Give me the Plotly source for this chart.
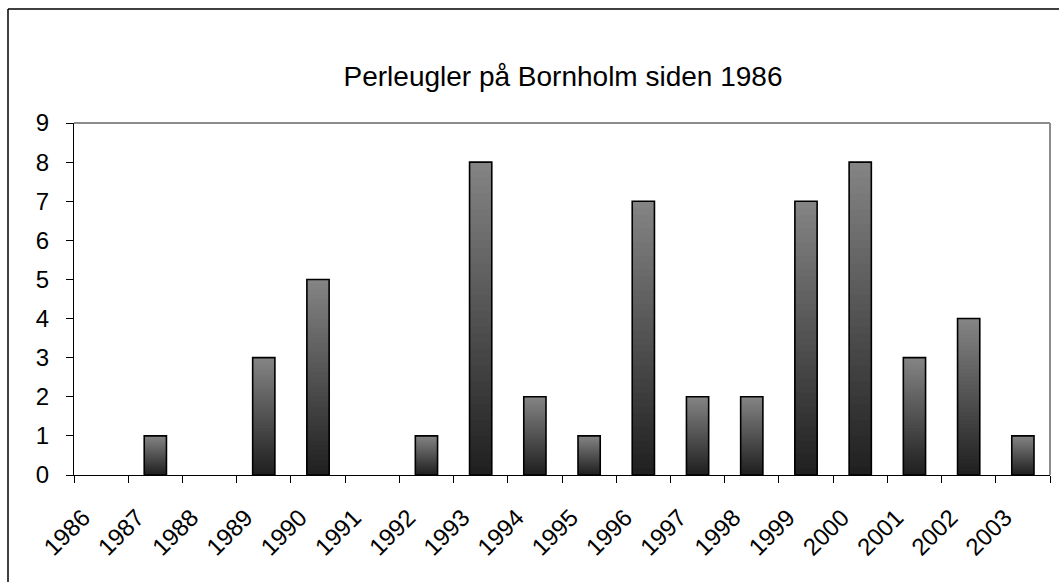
import plotly.graph_objects as go

years = [str(y) for y in range(1986, 2004)]
counts = [0, 1, 0, 3, 5, 0, 1, 8, 2, 1, 7, 2, 2, 7, 8, 3, 4, 1]
title_text = "Perleugler på Bornholm siden 1986"

fig = go.Figure()

# vertical gradient per bar: light gray at top, dark at bottom (stepped overlay)
N = 40
top_rgb = (132, 132, 132)
bot_rgb = (30, 30, 30)
for i in range(N):
    f = 1 - i / N
    c = tuple(int(bot_rgb[k] + (top_rgb[k] - bot_rgb[k]) * f) for k in range(3))
    fig.add_trace(go.Bar(
        x=years, y=[v * f if v else None for v in counts], width=0.41,
        marker=dict(color=f"rgb{c}", line=dict(width=0)),
        hoverinfo="skip", showlegend=False,
    ))
fig.add_trace(go.Bar(
    x=years, y=[v if v else None for v in counts], width=0.41,
    marker=dict(color="rgba(0,0,0,0)", line=dict(color="black", width=1.6)),
    showlegend=False,
))

L, R, T, B = 74, 9, 123, 107
W, H = 1059, 582
pw, ph = W - L - R, H - T - B
def px(x):
    return (x - L) / pw
def py(y):
    return (H - B - y) / ph

fig.update_layout(
    width=W, height=H,
    margin=dict(l=L, r=R, t=T, b=B, autoexpand=False),
    barmode="overlay",
    paper_bgcolor="white", plot_bgcolor="white",
    font=dict(family="Liberation Sans, Arial, sans-serif", color="black", size=24),
    title=dict(text=title_text, xref="container", x=563 / W, xanchor="center",
               y=1 - 76 / H, yanchor="middle", font=dict(size=28)),
    xaxis=dict(type="category", tickson="boundaries", ticks="outside", ticklen=7,
               tickcolor="black", tickwidth=1, showline=True, linecolor="black", linewidth=1,
               tickangle=-45, showgrid=False, zeroline=False, tickfont=dict(size=24),
               ticklabelshift=-18, ticklabelstandoff=18, automargin=False),
    yaxis=dict(range=[0, 9], dtick=1, ticks="outside", ticklen=7, tickcolor="black",
               showline=True, linecolor="black", linewidth=1, showgrid=False,
               zeroline=False, tickfont=dict(size=24), ticklabelstandoff=12,
               automargin=False),
    shapes=[
        dict(type="line", xref="paper", yref="paper", x0=0, x1=1, y0=1, y1=1,
             line=dict(color="#8c8c8c", width=2)),
        dict(type="line", xref="paper", yref="paper", x0=1, x1=1, y0=0, y1=1,
             line=dict(color="#8c8c8c", width=2)),
        dict(type="line", xref="paper", yref="paper", x0=px(8), x1=px(8), y0=py(600), y1=py(9),
             line=dict(color="black", width=1.5)),
        dict(type="line", xref="paper", yref="paper", x0=px(8), x1=px(1100), y0=py(9), y1=py(9),
             line=dict(color="black", width=1.5)),
    ],
)

fig.write_html("out.html", config={"displayModeBar": False},
               post_script="document.body.style.margin='0';")
